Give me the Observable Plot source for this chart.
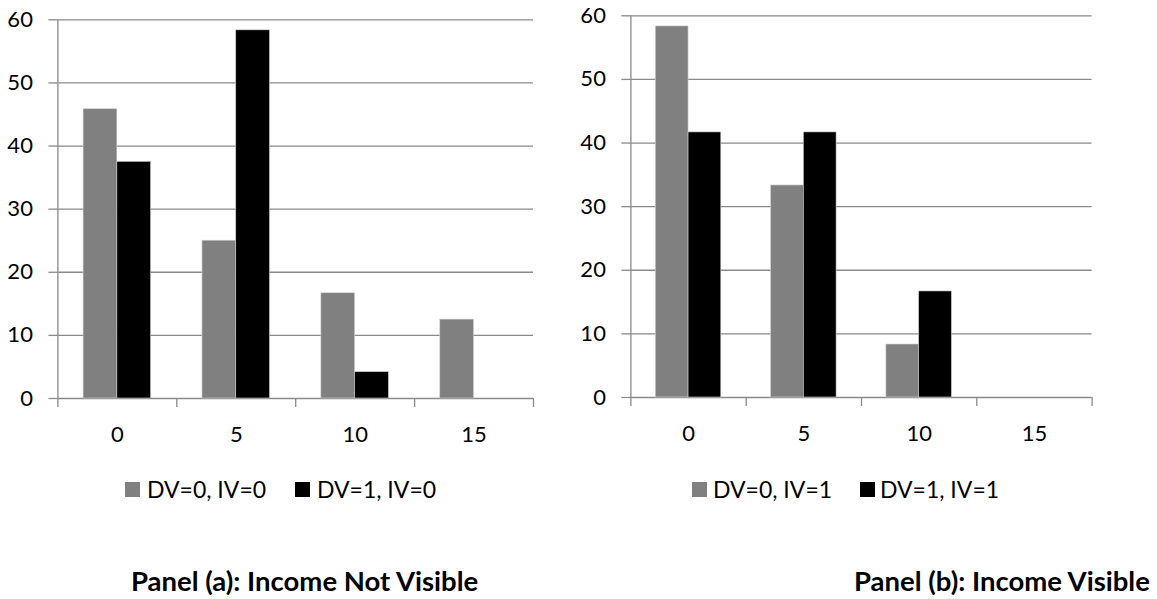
<!DOCTYPE html>
<html>
<head>
<meta charset="utf-8">
<script src="https://cdn.jsdelivr.net/npm/d3@7"></script>
<script src="https://cdn.jsdelivr.net/npm/@observablehq/plot@0.6"></script>
<style>
  html, body { margin: 0; padding: 0; background: #fff; }
  #page { position: relative; width: 1157px; height: 599px; overflow: hidden; font-family: Lato, "Open Sans", sans-serif; color: #000; }
  .plot { position: absolute; top: 0; }
  .leg { position: absolute; font-size: 23px; line-height: 1; white-space: nowrap; }
  .sw { position: absolute; width: 15px; height: 15px; }
  .title { position: absolute; font-size: 27.5px; font-weight: bold; line-height: 1; white-space: nowrap; }
</style>
</head>
<body>
<div id="page"></div>
<script>
// ---- data ----
const categories = [0, 5, 10, 15];
const panelA_DV0 = [45.83, 25, 16.67, 12.5];
const panelA_DV1 = [37.5, 58.33, 4.17, 0];
const panelB_DV0 = [58.33, 33.33, 8.33, 0];
const panelB_DV1 = [41.67, 41.67, 16.67, 0];
const yTicks = [0, 10, 20, 30, 40, 50, 60];
const legendA = ["DV=0, IV=0", "DV=1, IV=0"];
const legendB = ["DV=0, IV=1", "DV=1, IV=1"];
const titleA = "Panel (a): Income Not Visible";
const titleB = "Panel (b): Income Visible";
const seriesColors = ["#808080", "#000000"];

const page = document.getElementById("page");
const gridColor = "#8a8a8a";
const half = 2.5;            // half category spacing
const barW = 1.42;           // bar width in x units
const boundaries = categories.map(c => c - half).concat([categories[categories.length - 1] + half]);

function panel(dv0, dv1, opts) {
  const rows0 = categories.map((c, i) => ({c, v: dv0[i]})).filter(d => d.v > 0);
  const rows1 = categories.map((c, i) => ({c, v: dv1[i]})).filter(d => d.v > 0);
  return Plot.plot({
    width: opts.width,
    height: 460,
    marginLeft: opts.ml,
    marginRight: opts.mr,
    marginTop: opts.mt,
    marginBottom: opts.mb,
    style: {fontFamily: "Lato, 'Open Sans', sans-serif", fontSize: "22px", color: "#000", background: "#fff"},
    x: {type: "linear", domain: [boundaries[0], boundaries[boundaries.length - 1]]},
    y: {domain: [0, 60]},
    marks: [
      Plot.gridY(yTicks, {stroke: gridColor, strokeOpacity: 1, strokeWidth: 1.3}),
      Plot.rectY(rows0, {x1: d => d.c - barW, x2: d => d.c, y1: 0, y2: "v", fill: seriesColors[0], stroke: "#d0d0d0", strokeWidth: 0.6}),
      Plot.rectY(rows1, {x1: d => d.c, x2: d => d.c + barW, y1: 0, y2: "v", fill: seriesColors[1], stroke: "#d0d0d0", strokeWidth: 0.6}),
      Plot.ruleX([boundaries[0]], {y1: 0, y2: 60, stroke: gridColor, strokeWidth: 1.3}),
      Plot.axisY(yTicks, {tickSize: 9, tickPadding: 16, stroke: gridColor, strokeWidth: 1.3, fill: "#000", label: null, fontSize: 22}),
      Plot.axisX(boundaries, {tickSize: 9, tickFormat: () => "", stroke: gridColor, strokeWidth: 1.3, label: null}),
      Plot.axisX(categories, {tickSize: 0, tickPadding: 28, fill: "#000", label: null, fontSize: 22})
    ]
  });
}

function place(el, left) {
  el.classList.add("plot");
  el.style.left = left + "px";
  page.appendChild(el);
}

place(panel(panelA_DV0, panelA_DV1, {width: 560, ml: 57.4, mr: 27, mt: 19.3, mb: 62}), 0);
place(panel(panelB_DV0, panelB_DV1, {width: 579, ml: 52.4, mr: 65.4, mt: 15.3, mb: 63}), 578);

function legend(labels, swX, txtX, top) {
  labels.forEach((lab, i) => {
    const sw = document.createElement("div");
    sw.className = "sw";
    sw.style.left = swX[i] + "px";
    sw.style.top = (top + 4) + "px";
    sw.style.background = seriesColors[i];
    page.appendChild(sw);
    const t = document.createElement("div");
    t.className = "leg";
    t.style.left = txtX[i] + "px";
    t.style.top = top + "px";
    t.textContent = lab;
    page.appendChild(t);
  });
}
legend(legendA, [125, 295], [147, 317], 478);
legend(legendB, [692, 860], [713, 880], 478);

function title(text, left) {
  const t = document.createElement("div");
  t.className = "title";
  t.style.left = left + "px";
  t.style.top = "567px";
  t.textContent = text;
  page.appendChild(t);
}
title(titleA, 131);
title(titleB, 854);
</script>
</body>
</html>
